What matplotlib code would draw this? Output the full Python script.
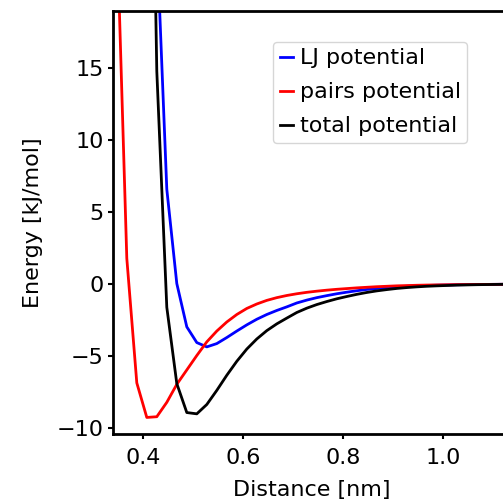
import numpy as np
import matplotlib
matplotlib.use('Agg')
import matplotlib.pyplot as plt

# distance grid [nm]
distance = [0.348, 0.368, 0.388, 0.408, 0.428, 0.448, 0.468, 0.488, 0.508, 0.528,
            0.548, 0.568, 0.588, 0.608, 0.628, 0.648, 0.668, 0.688, 0.708, 0.728,
            0.748, 0.768, 0.788, 0.808, 0.828, 0.848, 0.868, 0.888, 0.908, 0.928,
            0.948, 0.968, 0.988, 1.008, 1.028, 1.048, 1.068, 1.088, 1.108, 1.128,
            1.148]

# energies [kJ/mol]
lj_potential = [900.0, 420.0, 190.0, 64.0, 24.0, 6.6, 0.05, -2.96, -4.05, -4.35,
                -4.12, -3.70, -3.25, -2.82, -2.43, -2.10, -1.82, -1.57, -1.30, -1.10,
                -0.93, -0.79, -0.66, -0.55, -0.45, -0.36, -0.29, -0.23, -0.18, -0.14,
                -0.11, -0.085, -0.065, -0.05, -0.035, -0.025, -0.015, -0.01, -0.005, 0.0,
                0.0]

pairs_potential = [25.0, 1.8, -6.85, -9.25, -9.2, -8.2, -6.95, -5.95, -4.95, -4.0,
                   -3.25, -2.62, -2.10, -1.68, -1.37, -1.12, -0.93, -0.78, -0.66, -0.56,
                   -0.48, -0.41, -0.35, -0.30, -0.25, -0.21, -0.17, -0.14, -0.11, -0.09,
                   -0.07, -0.055, -0.045, -0.035, -0.025, -0.02, -0.015, -0.01, -0.005, 0.0,
                   0.0]

total_potential = [925.0, 421.8, 183.15, 54.75, 14.8, -1.6, -6.9, -8.91, -9.0, -8.35,
                   -7.37, -6.32, -5.35, -4.50, -3.80, -3.22, -2.75, -2.35, -1.96, -1.66,
                   -1.41, -1.20, -1.01, -0.85, -0.70, -0.57, -0.46, -0.37, -0.29, -0.23,
                   -0.18, -0.14, -0.11, -0.085, -0.06, -0.045, -0.03, -0.02, -0.01, 0.0,
                   0.0]

plt.rcParams['font.size'] = 16
plt.rcParams['axes.linewidth'] = 2

fig = plt.figure(figsize=(5.03, 5.0), dpi=100)
#axes run a little past the right edge of the picture
ax = fig.add_axes([113.3/503, 66/500, 396.7/503, 423.3/500])

ax.plot(distance, lj_potential, color='b', linewidth=2, label='LJ potential')
ax.plot(distance, pairs_potential, color='r', linewidth=2, label='pairs potential')
ax.plot(distance, total_potential, color='k', linewidth=2, label='total potential')

ax.set_xlim(0.341, 1.1344)
ax.set_ylim(-10.4, 19.0)
ax.set_xticks([0.4, 0.6, 0.8, 1.0])
ax.set_yticks([-10, -5, 0, 5, 10, 15])
ax.tick_params(width=1.5)
ax.tick_params(axis='x', pad=6.5)
ax.set_xlabel('Distance [nm]', labelpad=9)
ax.set_ylabel('Energy [kJ/mol]', labelpad=10)

ax.legend(loc='upper left', bbox_to_anchor=(273/503, 1 - 41.7/500),
          bbox_transform=fig.transFigure, borderaxespad=0,
          handlelength=0.6, handletextpad=0.3, labelspacing=0.63, borderpad=0.3)

plt.savefig('out.png', dpi=100)
plt.close()
